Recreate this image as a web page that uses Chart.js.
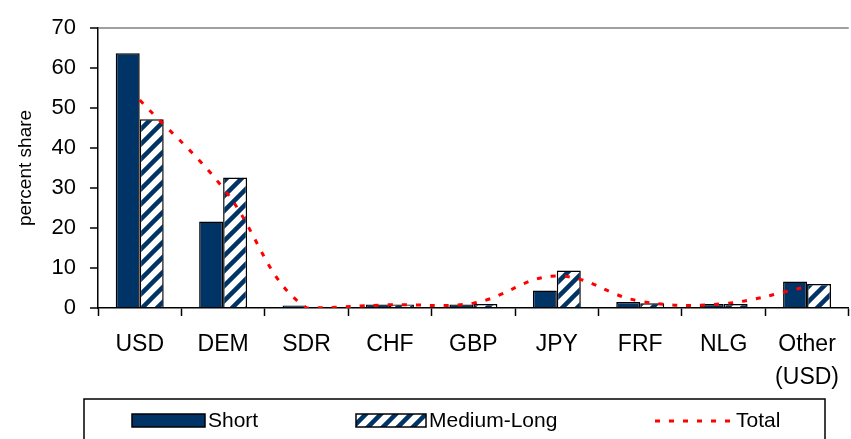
<!DOCTYPE html>
<html lang="en">
<head>
    <meta charset="UTF-8">
    <title>Currency composition</title>
    <script src="https://cdnjs.cloudflare.com/ajax/libs/Chart.js/4.4.1/chart.umd.min.js"></script>
    <style>
        * { margin: 0; padding: 0; box-sizing: border-box; }
        body { background: #fff; width: 851px; height: 439px; overflow: hidden; }
        canvas { display: block; }
    </style>
</head>
<body>
    <canvas id="shareChart" width="851" height="439"></canvas>

    <script>
        // values
        const categories = ['USD', 'DEM', 'SDR', 'CHF', 'GBP', 'JPY', 'FRF', 'NLG', ['Other', '(USD)']];
        const shortShare = [63.7, 21.6, 0.6, 0.9, 0.9, 4.4, 1.5, 1.0, 6.6];
        const mediumLongShare = [47.2, 32.6, 0, 0.9, 1.0, 9.4, 1.2, 1.0, 6.0];
        const totalShare = [52, 30, 0, 0.8, 1.2, 8.0, 1.7, 1.1, 5.3];
        const yTicks = [0, 10, 20, 30, 40, 50, 60, 70];

        const NAVY = '#003366';
        const FONT = 'Arial, "Liberation Sans", sans-serif';

        function hatchPattern() {
            const s = 15;
            const c = document.createElement('canvas');
            c.width = s;
            c.height = s;
            const g = c.getContext('2d');
            g.fillStyle = '#fff';
            g.fillRect(0, 0, s, s);
            g.strokeStyle = NAVY;
            g.lineWidth = 4.5;
            g.beginPath();
            g.moveTo(-s / 2, s / 2); g.lineTo(s / 2, -s / 2);
            g.moveTo(0, s); g.lineTo(s, 0);
            g.moveTo(s / 2, s * 1.5); g.lineTo(s * 1.5, s / 2);
            g.stroke();
            return g.createPattern(c, 'repeat');
        }
        const hatch = hatchPattern();

        // legend in a box under the axis, like the original
        const boxLegend = {
            id: 'boxLegend',
            afterDraw(chart) {
                const ctx = chart.ctx;
                ctx.save();
                ctx.strokeStyle = '#000';
                ctx.lineWidth = 1.5;
                ctx.strokeRect(84, 399, 741, 50);

                ctx.font = '21px ' + FONT;
                ctx.textBaseline = 'middle';

                ctx.fillStyle = NAVY;
                ctx.fillRect(132, 414, 73, 13);
                ctx.strokeStyle = '#000';
                ctx.lineWidth = 1.5;
                ctx.strokeRect(132, 414, 73, 13);
                ctx.fillStyle = '#000';
                ctx.fillText('Short', 208, 421);

                ctx.fillStyle = hatch;
                ctx.fillRect(356, 414, 70, 13);
                ctx.strokeRect(356, 414, 70, 13);
                ctx.fillStyle = '#000';
                ctx.fillText('Medium-Long', 429, 421);

                ctx.strokeStyle = '#ff0000';
                ctx.lineWidth = 3;
                ctx.setLineDash([5, 9]);
                ctx.beginPath();
                ctx.moveTo(655, 421);
                ctx.lineTo(735, 421);
                ctx.stroke();
                ctx.setLineDash([]);
                ctx.fillText('Total', 736, 421);
                ctx.restore();
            }
        };

        new Chart(document.getElementById('shareChart'), {
            type: 'bar',
            data: {
                labels: categories,
                datasets: [
                    {
                        label: 'Total',
                        type: 'line',
                        data: totalShare,
                        borderColor: '#ff0000',
                        borderWidth: 3,
                        borderDash: [5, 9],
                        pointRadius: 0,
                        tension: 0.4,
                        fill: false,
                        order: 0
                    },
                    {
                        label: 'Short',
                        data: shortShare,
                        backgroundColor: NAVY,
                        borderColor: '#000',
                        borderWidth: 1.5,
                        categoryPercentage: 0.575,
                        barPercentage: 1,
                        order: 1
                    },
                    {
                        label: 'Medium-Long',
                        data: mediumLongShare,
                        backgroundColor: hatch,
                        borderColor: '#000',
                        borderWidth: 1.5,
                        categoryPercentage: 0.575,
                        barPercentage: 1,
                        order: 1
                    }
                ]
            },
            options: {
                responsive: false,
                animation: false,
                devicePixelRatio: 1,
                layout: { padding: { top: 28, left: 0, right: 0, bottom: 0 } },
                plugins: {
                    legend: { display: false },
                    tooltip: { enabled: false }
                },
                scales: {
                    x: {
                        offset: true,
                        afterFit(scale) { scale.height = 131; },
                        grid: {
                            offset: true,
                            drawOnChartArea: false,
                            tickLength: 8,
                            tickColor: '#000',
                            tickWidth: 1.5
                        },
                        border: { color: '#000', width: 1.5 },
                        ticks: {
                            color: '#000',
                            font: { family: FONT, size: 23, lineHeight: 1.45 },
                            padding: 12,
                            maxRotation: 0,
                            autoSkip: false
                        }
                    },
                    y: {
                        min: 0,
                        max: 70,
                        afterFit(scale) { scale.width = 98; },
                        afterBuildTicks(scale) {
                            scale.ticks = yTicks.map(v => ({ value: v }));
                        },
                        grid: {
                            drawOnChartArea: true,
                            color: c => (c.tick && c.tick.value === 70 ? '#a0a0a0' : 'rgba(0,0,0,0)'),
                            lineWidth: 2,
                            tickLength: 8,
                            tickColor: '#000',
                            tickWidth: 1.5
                        },
                        border: { color: '#000', width: 1.5 },
                        ticks: {
                            color: '#000',
                            font: { family: FONT, size: 22 },
                            padding: 14
                        },
                        title: {
                            display: true,
                            text: 'percent share',
                            color: '#000',
                            font: { family: FONT, size: 19 },
                            padding: { top: 14, bottom: 0 }
                        }
                    }
                }
            },
            plugins: [boxLegend]
        });
    </script>
</body>
</html>
